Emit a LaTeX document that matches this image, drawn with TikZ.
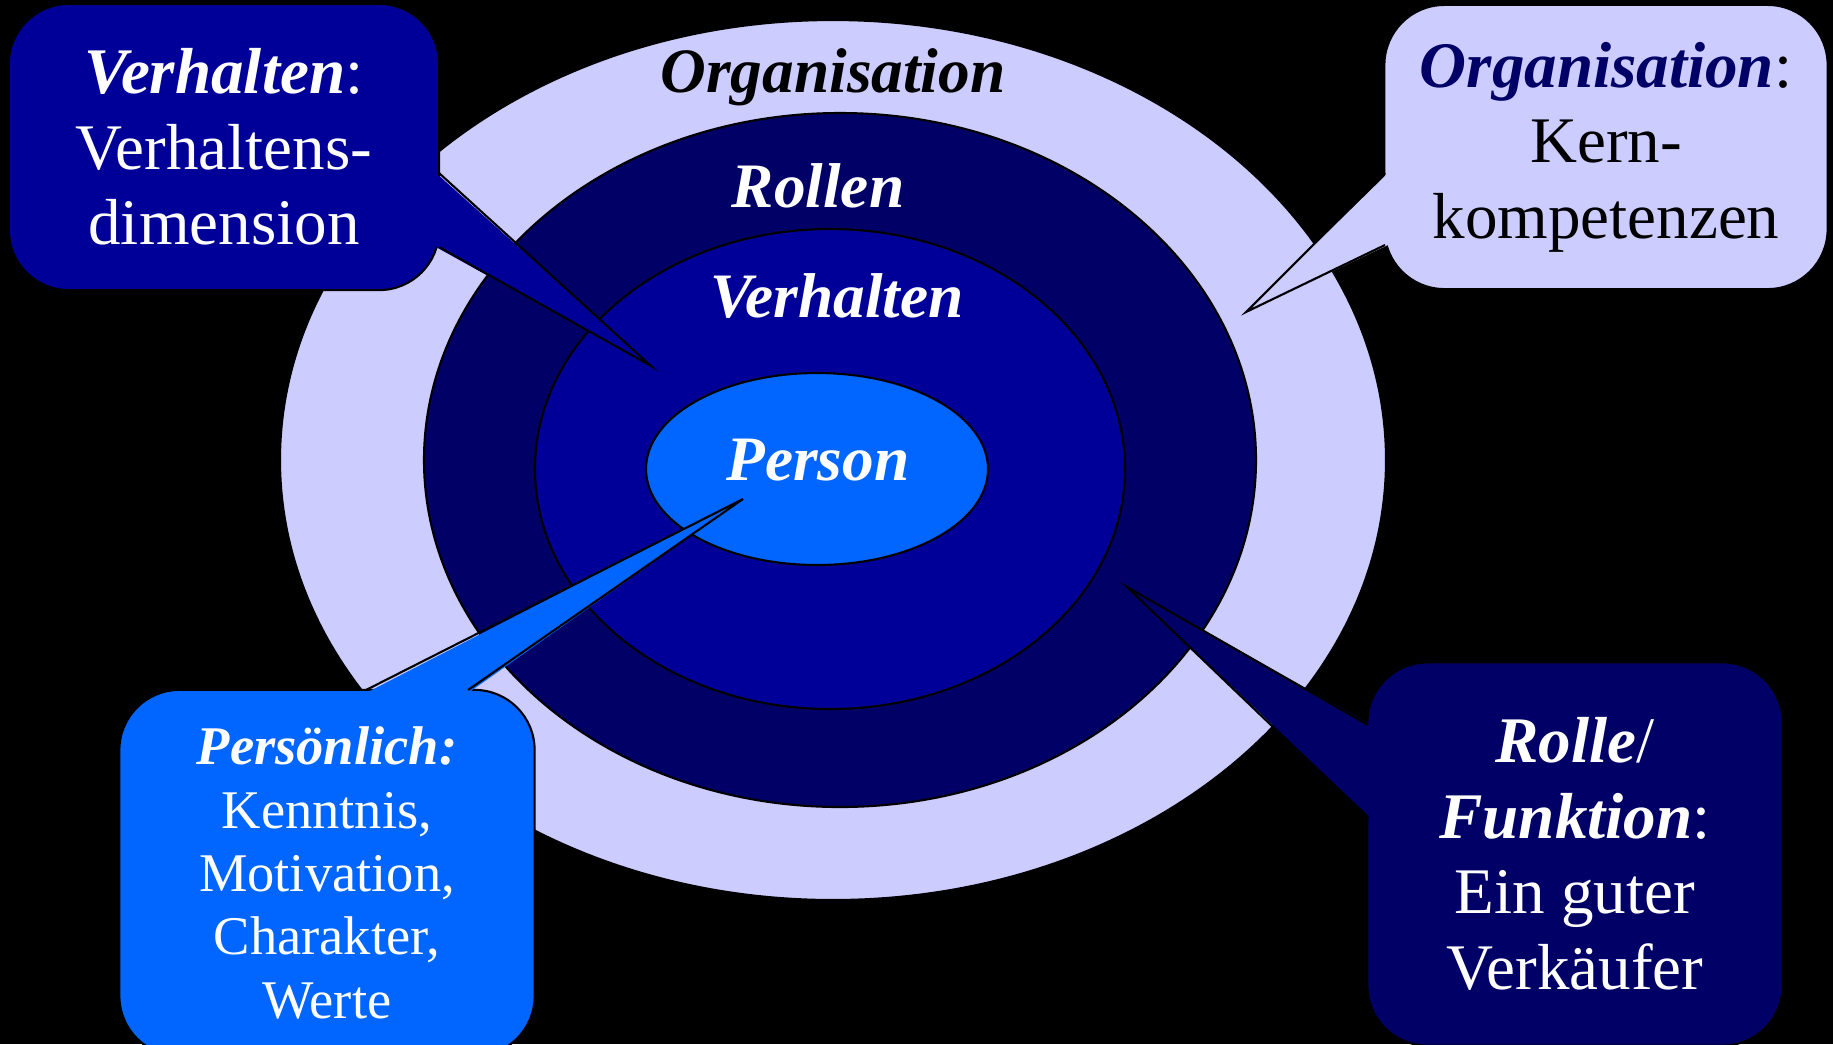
\documentclass[tikz,border=0pt]{standalone}
\usepackage{fontspec}
\setmainfont{Liberation Serif}
\definecolor{lavender}{HTML}{CCCCFF}
\definecolor{navyblue}{HTML}{000066}
\definecolor{royalblue}{HTML}{000099}
\definecolor{skyblue}{HTML}{0066FF}
\newcommand{\bi}[1]{\textbf{\textit{#1}}}
\begin{document}
\begin{tikzpicture}[x=0.01cm, y=-0.01cm, line width=0.6pt,
    bubble/.style={draw, rounded corners=0.6cm, align=center, inner sep=0pt,
      font=\fontsize{18.5}{21.5}\selectfont},
    ringlabel/.style={font=\fontsize{18}{21}\selectfont\bfseries\itshape}]
  \useasboundingbox (0,0) rectangle (1833,1044);
  \fill[black] (0,0) rectangle (1833,1044);
  % rings
  \draw[fill=lavender] (833,460) ellipse (553 and 440);
  \draw[fill=navyblue] (840,460) ellipse (416 and 347);
  \draw[fill=royalblue] (830,469) ellipse (295 and 240);
  \draw[fill=skyblue] (817,469) ellipse (171 and 96);
  \node[ringlabel] (orglabel) at (833,77) {Organisation};
  \node[ringlabel, text=white] (rollabel) at (818,186) {Rollen};
  \node[ringlabel, text=white] (verlabel) at (837,296) {Verhalten};
  \node[ringlabel, text=white] (perlabel) at (818,460) {Person};
  % top left
  \node[bubble, fill=royalblue, text=white, minimum width=4.30cm, minimum height=2.86cm]
    (verhbox) at (224,147) {\bi{Verhalten}:\\Verhaltens-\\dimension};
  \coordinate (verhtip) at (651,366);
  \fill[royalblue] (436,173) -- (verhtip) -- (436,247) -- cycle;
  \draw (439,173) -- (verhtip) -- (439,247);
  % top right
  \node[bubble, fill=lavender, minimum width=4.43cm, minimum height=2.84cm]
    (orgbox) at (1606,147) {\textcolor{navyblue}{\bi{Organisation}}:\\Kern-\\kompetenzen};
  \coordinate (orgtip) at (1246,312);
  \fill[lavender] (1388,173) -- (orgtip) -- (1388,245) -- cycle;
  \draw (1385,173) -- (orgtip) -- (1385,245);
  % bottom left
  \node[bubble, fill=skyblue, text=white, minimum width=4.15cm, minimum height=3.66cm,
    font=\fontsize{15.5}{18}\selectfont]
    (perbox) at (327,873) {\bi{Persönlich:}\\Kenntnis,\\Motivation,\\Charakter,\\Werte};
  \coordinate (pertip) at (743,499);
  \fill[skyblue] (366,693) -- (pertip) -- (468,693) -- cycle;
  \draw (366,690) -- (pertip) -- (468,690);
  % bottom right
  \node[bubble, fill=navyblue, text=white, minimum width=4.15cm, minimum height=3.83cm]
    (rolbox) at (1575,854) {\bi{Rolle}/\\\bi{Funktion}:\\Ein guter\\Verkäufer};
  \coordinate (roltip) at (1127,587);
  \fill[navyblue] (1371,725) -- (roltip) -- (1371,818) -- cycle;
  \draw (1368,725) -- (roltip) -- (1368,818);
\end{tikzpicture}
\end{document}
